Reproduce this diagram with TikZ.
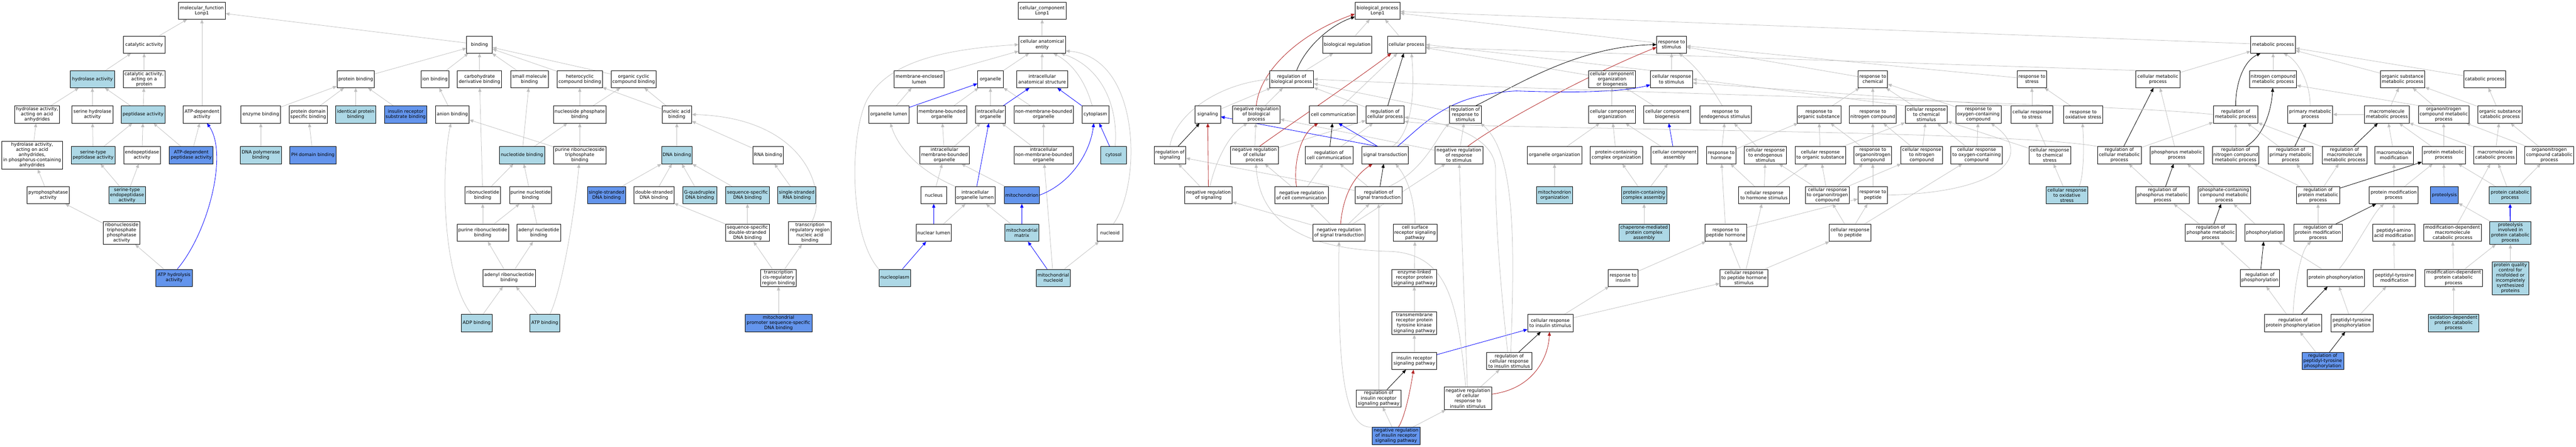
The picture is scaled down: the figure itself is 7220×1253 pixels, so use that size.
\documentclass[tikz,border=0pt]{standalone}
\usepackage{fontspec}
\setmainfont{DejaVu Sans}
\usetikzlibrary{arrows.meta}
\definecolor{lb}{RGB}{173,216,230}
\definecolor{cbl}{RGB}{100,149,237}
\definecolor{eg}{RGB}{192,192,192}
\definecolor{fb}{RGB}{178,34,34}
\pgfdeclarelayer{edgelayer}
\pgfsetlayers{edgelayer,main}
\tikzset{
 gbox/.style={draw=black, line width=1pt, fill=white, rectangle, minimum height=48pt, inner xsep=1.5pt, inner ysep=0pt, align=center, font=\fontsize{12.8}{14.6}\selectfont},
 lbx/.style={fill=lb}, cbx/.style={fill=cbl},
 isa/.style={draw=eg, line width=1.1pt, -{Triangle[length=11pt,width=9pt]}},
 partof/.style={draw=blue, line width=1.2pt, -{Triangle[length=11pt,width=9pt]}},
 partofthick/.style={draw=blue, line width=2.4pt, -{Triangle[length=11pt,width=9pt]}},
 regl/.style={draw=black, line width=1.2pt, -{Triangle[length=11pt,width=9pt]}},
 negl/.style={draw=fb, line width=1.2pt, -{Triangle[length=11pt,width=9pt]}},
}
\newcommand{\gonode}[6]{\node[gbox,#1,minimum width=#5pt] (#2) at (#3,#4) {#6};}
\begin{document}
\begin{tikzpicture}[x=1pt,y=-1pt]
\useasboundingbox (0,0) rectangle (7220,1253);
\begin{pgfonlayer}{edgelayer}
\fill[white] (0,0) rectangle (7220,1253);
\end{pgfonlayer}
% ---------------- molecular function ----------------
\gonode{}{mf}{566}{30}{131}{molecular\_function\\Lonp1}
\gonode{}{cat}{404}{125}{116}{catalytic activity}
\gonode{lbx}{hyd}{259}{222}{123}{hydrolase activity}
\gonode{}{catprot}{404}{222}{118}{catalytic activity,\\acting on a\\protein}
\gonode{}{hydanh}{104}{321}{126}{hydrolase activity,\\acting on acid\\anhydrides}
\gonode{}{serhyd}{259}{321}{115}{serine hydrolase\\activity}
\gonode{lbx}{pep}{401}{321}{123}{peptidase activity}
\gonode{}{atpdep}{566}{321}{105}{ATP-dependent\\activity}
\gonode{minimum height=78pt}{hydphos}{90}{435}{171}{hydrolase activity,\\acting on acid\\anhydrides,\\in phosphorus-containing\\anhydrides}
\gonode{lbx}{serpep}{261}{435}{123}{serine-type\\peptidase activity}
\gonode{}{endopep}{398}{435}{102}{endopeptidase\\activity}
\gonode{cbx}{atppep}{536}{435}{123}{ATP-dependent\\peptidase activity}
\gonode{}{pyro}{135}{547}{118}{pyrophosphatase\\activity}
\gonode{lbx}{serendo}{356}{547}{103}{serine-type\\endopeptidase\\activity}
\gonode{minimum height=64pt}{rntp}{341}{653}{102}{ribonucleoside\\triphosphate\\phosphatase\\activity}
\gonode{cbx}{atphyd}{488}{779}{102}{ATP hydrolysis\\activity}
\gonode{}{bind}{1344}{125}{72}{binding}
\gonode{}{protbind}{997}{222}{105}{protein binding}
\gonode{}{ionbind}{1219}{222}{78}{ion binding}
\gonode{}{carbbind}{1344}{222}{124}{carbohydrate\\derivative binding}
\gonode{}{smbind}{1484}{222}{106}{small molecule\\binding}
\gonode{}{hetbind}{1625}{222}{126}{heterocyclic\\compound binding}
\gonode{}{orgcyc}{1776}{222}{126}{organic cyclic\\compound binding}
\gonode{}{enzbind}{731}{321}{111}{enzyme binding}
\gonode{}{pdsb}{864}{321}{107}{protein domain\\specific binding}
\gonode{lbx}{idprot}{997}{321}{112}{identical protein\\binding}
\gonode{cbx}{irsb}{1137}{321}{118}{insulin receptor\\substrate binding}
\gonode{}{anion}{1268}{321}{94}{anion binding}
\gonode{}{nsp}{1625}{321}{148}{nucleoside phosphate\\binding}
\gonode{}{nab}{1897}{321}{83}{nucleic acid\\binding}
\gonode{lbx}{dnapol}{731}{435}{115}{DNA polymerase\\binding}
\gonode{cbx}{phdom}{877}{435}{129}{PH domain binding}
\gonode{lbx}{ntb}{1463}{435}{127}{nucleotide binding}
\gonode{}{prntp}{1625}{435}{147}{purine ribonucleoside\\triphosphate\\binding}
\gonode{lbx}{dnab}{1897}{435}{86}{DNA binding}
\gonode{}{rnab}{2153}{435}{86}{RNA binding}
\gonode{}{rnb}{1353}{547}{99}{ribonucleotide\\binding}
\gonode{}{pnb}{1487}{547}{118}{purine nucleotide\\binding}
\gonode{cbx}{ssdna}{1700}{547}{107}{single-stranded\\DNA binding}
\gonode{}{dsdna}{1833}{547}{112}{double-stranded\\DNA binding}
\gonode{lbx}{gq}{1961}{547}{95}{G-quadruplex\\DNA binding}
\gonode{lbx}{ssdnab}{2095}{547}{123}{sequence-specific\\DNA binding}
\gonode{lbx}{ssrna}{2233}{547}{107}{single-stranded\\RNA binding}
\gonode{}{prnb}{1353}{653}{144}{purine ribonucleotide\\binding}
\gonode{}{anb}{1510}{653}{123}{adenyl nucleotide\\binding}
\gonode{}{ssds}{2095}{653}{123}{sequence-specific\\double-stranded\\DNA binding}
\gonode{minimum height=64pt}{trr}{2270}{653}{119}{transcription\\regulatory region\\nucleic acid\\binding}
\gonode{}{arnb}{1427}{779}{147}{adenyl ribonucleotide\\binding}
\gonode{}{tcis}{2182}{779}{99}{transcription\\cis-regulatory\\region binding}
\gonode{lbx}{adp}{1336}{906}{86}{ADP binding}
\gonode{lbx}{atp}{1527}{906}{83}{ATP binding}
\gonode{cbx}{mitoprom}{2182}{906}{187}{mitochondrial\\promoter sequence-specific\\DNA binding}
% ---------------- cellular component ----------------
\gonode{}{cc}{2921}{30}{134}{cellular\_component\\Lonp1}
\gonode{}{cae}{2921}{125}{131}{cellular anatomical\\entity}
\gonode{}{mel}{2576}{222}{140}{membrane-enclosed\\lumen}
\gonode{}{org}{2776}{222}{72}{organelle}
\gonode{}{ias}{2921}{222}{142}{intracellular\\anatomical structure}
\gonode{}{orglum}{2491}{321}{112}{organelle lumen}
\gonode{}{mbo}{2640}{321}{138}{membrane-bounded\\organelle}
\gonode{}{io}{2776}{321}{83}{intracellular\\organelle}
\gonode{}{nmbo}{2925}{321}{166}{non-membrane-bounded\\organelle}
\gonode{}{cytoplasm}{3070}{321}{75}{cytoplasm}
\gonode{}{imbo}{2647}{435}{139}{intracellular\\membrane-bounded\\organelle}
\gonode{}{inmbo}{2925}{435}{166}{intracellular\\non-membrane-bounded\\organelle}
\gonode{lbx}{cytosol}{3121}{435}{73}{cytosol}
\gonode{}{nucleus}{2617}{547}{72}{nucleus}
\gonode{}{iol}{2733}{547}{112}{intracellular\\organelle lumen}
\gonode{cbx}{mito}{2864}{547}{99}{mitochondrion}
\gonode{}{nuclum}{2617}{653}{99}{nuclear lumen}
\gonode{lbx}{mitomat}{2864}{653}{96}{mitochondrial\\matrix}
\gonode{}{nucleoid}{3111}{653}{73}{nucleoid}
\gonode{lbx}{nucleoplasm}{2508}{779}{89}{nucleoplasm}
\gonode{lbx}{mitonuc}{2952}{779}{96}{mitochondrial\\nucleoid}
% ---------------- biological process ----------------
\gonode{}{bp}{3861}{30}{126}{biological\_process\\Lonp1}
\gonode{}{bioreg}{3776}{125}{138}{biological regulation}
\gonode{}{cellproc}{3942}{125}{107}{cellular process}
\gonode{}{resstim}{4685}{125}{83}{response to\\stimulus}
\gonode{}{metproc}{6371}{125}{125}{metabolic process}
\gonode{}{regbio}{3620}{222}{123}{regulation of\\biological process}
\gonode{}{ccob}{4518}{222}{131}{cellular component\\organization\\or biogenesis}
\gonode{}{crstim}{4685}{222}{118}{cellular response\\to stimulus}
\gonode{}{reschem}{5249}{222}{83}{response to\\chemical}
\gonode{}{resstress}{5695}{222}{83}{response to\\stress}
\gonode{}{cellmet}{6048}{222}{123}{cellular metabolic\\process}
\gonode{}{ncmet}{6371}{222}{131}{nitrogen compound\\metabolic process}
\gonode{}{osmet}{6734}{222}{125}{organic substance\\metabolic process}
\gonode{}{catab}{6964}{222}{118}{catabolic process}
\gonode{}{signaling}{3385}{321}{72}{signaling}
\gonode{}{nrbio}{3521}{321}{133}{negative regulation\\of biological\\process}
\gonode{}{cellcomm}{3737}{321}{134}{cell communication}
\gonode{}{regcell}{3882}{321}{107}{regulation of\\cellular process}
\gonode{}{regresp}{4107}{321}{89}{regulation of\\response to\\stimulus}
\gonode{}{ccorg}{4518}{321}{131}{cellular component\\organization}
\gonode{}{ccbio}{4673}{321}{131}{cellular component\\biogenesis}
\gonode{}{resendo}{4836}{321}{144}{response to\\endogenous stimulus}
\gonode{}{resorg}{5098}{321}{123}{response to\\organic substance}
\gonode{}{resnit}{5249}{321}{131}{response to\\nitrogen compound}
\gonode{}{crchem}{5399}{321}{118}{cellular response\\to chemical\\stimulus}
\gonode{}{resoxy}{5545}{321}{127}{response to\\oxygen-containing\\compound}
\gonode{}{crstress}{5695}{321}{117}{cellular response\\to stress}
\gonode{}{resox}{5839}{321}{110}{response to\\oxidative stress}
\gonode{}{regmet}{6266}{321}{125}{regulation of\\metabolic process}
\gonode{}{primet}{6475}{321}{126}{primary metabolic\\process}
\gonode{}{macmet}{6690}{321}{125}{macromolecule\\metabolic process}
\gonode{}{onmet}{6849}{321}{142}{organonitrogen\\compound metabolic\\process}
\gonode{}{oscat}{7007}{321}{124}{organic substance\\catabolic process}
\gonode{}{regsig}{3279}{435}{89}{regulation of\\signaling}
\gonode{}{nrcell}{3516}{435}{134}{negative regulation\\of cellular\\process}
\gonode{}{regcc}{3725}{435}{134}{regulation of\\cell communication}
\gonode{}{sigtrans}{3882}{435}{131}{signal transduction}
\gonode{}{nrresp}{4089}{435}{134}{negative regulation\\of response\\to stimulus}
\gonode{}{orgorg}{4357}{435}{152}{organelle organization}
\gonode{}{pcco}{4530}{435}{147}{protein-containing\\complex organization}
\gonode{}{cca}{4693}{435}{131}{cellular component\\assembly}
\gonode{}{reshorm}{4824}{435}{83}{response to\\hormone}
\gonode{}{crendo}{4948}{435}{118}{cellular response\\to endogenous\\stimulus}
\gonode{}{crorg}{5102}{435}{141}{cellular response\\to organic substance}
\gonode{}{reson}{5249}{435}{105}{response to\\organonitrogen\\compound}
\gonode{}{crnit}{5386}{435}{117}{cellular response\\to nitrogen\\compound}
\gonode{}{croxy}{5540}{435}{144}{cellular response\\to oxygen-containing\\compound}
\gonode{}{crcs}{5745}{435}{117}{cellular response\\to chemical\\stress}
\gonode{}{regcmet}{5940}{435}{122}{regulation of\\cellular metabolic\\process}
\gonode{}{phosmet}{6101}{435}{150}{phosphorus metabolic\\process}
\gonode{}{regncm}{6266}{435}{131}{regulation of\\nitrogen compound\\metabolic process}
\gonode{}{regpm}{6420}{435}{126}{regulation of\\primary metabolic\\process}
\gonode{}{regmm}{6571}{435}{126}{regulation of\\macromolecule\\metabolic process}
\gonode{}{macmod}{6710}{435}{107}{macromolecule\\modification}
\gonode{}{protmet}{6849}{435}{121}{protein metabolic\\process}
\gonode{}{maccat}{6993}{435}{119}{macromolecule\\catabolic process}
\gonode{}{oncat}{7145}{435}{137}{organonitrogen\\compound catabolic\\process}
\gonode{}{nrsig}{3387}{547}{133}{negative regulation\\of signaling}
\gonode{}{nrcc}{3648}{547}{150}{negative regulation\\of cell communication}
\gonode{}{regst}{3864}{547}{131}{regulation of\\signal transduction}
\gonode{lbx}{mitoorg}{4357}{547}{100}{mitochondrion\\organization}
\gonode{lbx}{pcca}{4608}{547}{128}{protein-containing\\complex assembly}
\gonode{}{crhorm}{4944}{547}{142}{cellular response\\to hormone stimulus}
\gonode{}{cron}{5122}{547}{123}{cellular response\\to organonitrogen\\compound}
\gonode{}{respep}{5249}{547}{83}{response to\\peptide}
\gonode{lbx}{crox}{5793}{547}{117}{cellular response\\to oxidative\\stress}
\gonode{}{regphosm}{6061}{547}{150}{regulation of\\phosphorus metabolic\\process}
\gonode{}{pccm}{6234}{547}{147}{phosphate-containing\\compound metabolic\\process}
\gonode{}{regprotm}{6497}{547}{121}{regulation of\\protein metabolic\\process}
\gonode{}{protmod}{6709}{547}{137}{protein modification\\process}
\gonode{cbx}{proteolysis}{6851}{547}{78}{proteolysis}
\gonode{lbx}{protcat}{7035}{547}{116}{protein catabolic\\process}
\gonode{}{nrst}{3753}{653}{146}{negative regulation\\of signal transduction}
\gonode{}{csr}{3966}{653}{123}{cell surface\\receptor signaling\\pathway}
\gonode{lbx}{chap}{4608}{653}{142}{chaperone-mediated\\protein complex\\assembly}
\gonode{}{respeph}{4837}{653}{118}{response to\\peptide hormone}
\gonode{}{crpep}{5185}{653}{118}{cellular response\\to peptide}
\gonode{}{regphatm}{6196}{653}{143}{regulation of\\phosphate metabolic\\process}
\gonode{}{phosph}{6347}{653}{109}{phosphorylation}
\gonode{}{regpmod}{6497}{653}{137}{regulation of\\protein modification\\process}
\gonode{}{pepaa}{6709}{653}{119}{peptidyl-amino\\acid modification}
\gonode{}{mdmc}{6874}{653}{161}{modification-dependent\\macromolecule\\catabolic process}
\gonode{lbx,minimum height=64pt}{pipc}{7036}{653}{116}{proteolysis\\involved in\\protein catabolic\\process}
\gonode{}{elr}{3964}{779}{126}{enzyme-linked\\receptor protein\\signaling pathway}
\gonode{}{resins}{4549}{779}{83}{response to\\insulin}
\gonode{}{crpeph}{4888}{779}{135}{cellular response\\to peptide hormone\\stimulus}
\gonode{}{regphos}{6334}{779}{110}{regulation of\\phosphorylation}
\gonode{}{protphos}{6547}{779}{161}{protein phosphorylation}
\gonode{}{pepty}{6711}{779}{118}{peptidyl-tyrosine\\modification}
\gonode{}{mdpc}{6877}{779}{161}{modification-dependent\\protein catabolic\\process}
\gonode{lbx,minimum height=93pt}{pqc}{7036}{780}{102}{protein quality\\control for\\misfolded or\\incompletely\\synthesized\\proteins}
\gonode{minimum height=64pt}{rtk}{3964}{906}{126}{transmembrane\\receptor protein\\tyrosine kinase\\signaling pathway}
\gonode{}{crins}{4345}{906}{127}{cellular response\\to insulin stimulus}
\gonode{}{regpp}{6427}{906}{161}{regulation of\\protein phosphorylation}
\gonode{}{ptp}{6592}{906}{118}{peptidyl-tyrosine\\phosphorylation}
\gonode{lbx}{odpc}{6877}{906}{141}{oxidation-dependent\\protein catabolic\\process}
\gonode{}{irsp}{3964}{1012}{126}{insulin receptor\\signaling pathway}
\gonode{}{regcri}{4230}{1012}{127}{regulation of\\cellular response\\to insulin stimulus}
\gonode{cbx}{regptp}{6510}{1012}{117}{regulation of\\peptidyl-tyrosine\\phosphorylation}
\gonode{}{regirsp}{3864}{1117}{125}{regulation of\\insulin receptor\\signaling pathway}
\gonode{minimum height=64pt}{nrcri}{4114}{1117}{133}{negative regulation\\of cellular\\response to\\insulin stimulus}
\gonode{cbx}{nrirsp}{3913}{1222}{133}{negative regulation\\of insulin receptor\\signaling pathway}
% ---------------- edges ----------------
\begin{pgfonlayer}{edgelayer}
\foreach \a/\b in {cat/mf, atpdep/mf, bind/mf, hyd/cat, catprot/cat, hydanh/hyd, serhyd/hyd, pep/hyd, pep/catprot, hydphos/hydanh, serpep/serhyd, serpep/pep, endopep/pep, atppep/pep, atppep/atpdep, pyro/hydphos, serendo/serpep, serendo/endopep, rntp/pyro, atphyd/rntp,
 protbind/bind, ionbind/bind, carbbind/bind, smbind/bind, hetbind/bind, orgcyc/bind, enzbind/protbind, pdsb/protbind, idprot/protbind, irsb/protbind, dnapol/enzbind, phdom/pdsb, anion/ionbind, nsp/hetbind, nsp/orgcyc, nab/hetbind, nab/orgcyc, ntb/smbind, ntb/nsp, prntp/nsp, prntp/anion, rnb/ntb, rnb/carbbind, pnb/ntb, prnb/rnb, prnb/pnb, anb/pnb, arnb/prnb, arnb/anb, adp/arnb, atp/arnb, dnab/nab, rnab/nab, ssdna/dnab, dsdna/dnab, gq/dnab, ssdnab/dnab, ssrna/rnab, ssds/ssdnab, ssds/dsdna, tcis/ssds, tcis/trr, mitoprom/tcis,
 cae/cc, mel/cae, org/cae, ias/cae, orglum/mel, mbo/org, io/org, nmbo/org, imbo/mbo, imbo/io, inmbo/nmbo, inmbo/io, nucleus/imbo, mito/imbo, nuclum/iol, mitomat/iol, mitonuc/inmbo, mitonuc/nucleoid,
 bioreg/bp, cellproc/bp, regbio/bioreg, nrbio/regbio, metproc/bp, resstim/bp, signaling/regbio, nrsig/regsig, nrcell/nrbio, nrcell/regcell, cellcomm/cellproc, regcell/regbio, regcc/regcell, regresp/regbio, nrresp/regresp, nrresp/nrbio, nrcc/regcc, nrcc/nrcell, regst/regcc, regst/regsig, nrst/regst, nrst/nrcc, nrst/nrresp, nrst/nrsig, elr/csr, rtk/elr, irsp/rtk, regirsp/regst, nrcri/regcri, nrcri/nrresp, nrirsp/regirsp, nrirsp/nrcri,
 ccob/cellproc, crstim/resstim, ccorg/ccob, ccbio/ccob, orgorg/ccorg, pcco/ccorg, cca/ccorg, mitoorg/orgorg, pcca/pcco, pcca/cca, chap/pcca, resins/respeph, crins/resins, crins/crpeph, reschem/resstim, resstress/resstim, resorg/reschem, resnit/reschem, crchem/reschem, reshorm/resendo, reshorm/resorg, crendo/resendo, crorg/resorg, crorg/crchem, reson/resnit, reson/resorg, crnit/resnit, crnit/crchem, crhorm/reshorm, crhorm/crendo, crhorm/crorg, cron/crorg, cron/reson, cron/crnit, cron/crendo, respep/reson, respeph/reshorm, respeph/respep, crpep/cron, crpep/respep, crpep/croxy, crpeph/respeph, crpeph/crhorm, crpeph/crpep, resoxy/reschem, croxy/resoxy, croxy/crchem, crstress/resstress, resox/resstress, crcs/crstress, crcs/crchem, crox/crcs,
 cellmet/metproc, ncmet/metproc, regcmet/regmet, phosmet/cellmet, regncm/regmet, regpm/regmet, regmm/regmet, regphosm/regcmet, pccm/phosmet, regprotm/regncm, regprotm/regpm, regprotm/regmm, regphatm/regphosm, phosph/pccm, regpmod/regprotm, regphos/regphatm, protphos/phosph, regpp/regphos, ptp/protphos, ptp/pepty, regptp/regpp, osmet/metproc, catab/metproc, macmet/osmet, macmet/primet, onmet/osmet, oscat/catab, oscat/osmet, macmod/macmet, protmet/macmet, protmet/onmet, maccat/oscat, maccat/macmet, oncat/oscat, oncat/onmet, protmod/macmod, protmod/protmet, proteolysis/protmet, protcat/protmet, protcat/maccat, protcat/oncat, pepaa/protmod, mdmc/maccat, pipc/proteolysis, pepty/pepaa, mdpc/mdmc, mdpc/pipc, pqc/pipc, odpc/mdpc}
 \draw[isa] (\a) -- (\b);
\draw[isa] (crstim.north west) -- (cellproc.east);
\draw[isa] (cellmet.north west) -- (cellproc.-8);
\draw[isa] (crchem.north west) -- (crstim.east);
\draw[isa] (crstress.north west) -- (crstim.-10);
\draw[isa] (onmet.160) -- (ncmet.-15);
% blue part_of
\foreach \a/\b in {orglum/org, io/ias, iol/io, nuclum/nucleus, nucleoplasm/nuclum, mitonuc/mitomat, cytosol/cytoplasm, cca/ccbio, irsp/crins}
 \draw[partof] (\a) -- (\b);
\draw[partof] (cytoplasm.north west) -- (ias.-30);
\draw[partofthick] (mitomat) -- (mito);
\draw[partofthick] (pipc) -- (protcat);
\draw[partof] (sigtrans.130) -- (signaling.-10);
\draw[partof] (sigtrans.130) -- (cellcomm.-60);
% black regulates
\foreach \a/\b in {regsig/signaling, regcell/cellproc, regcc/cellcomm, regst/sigtrans, regirsp/irsp, regcri/crins, regcmet/cellmet, regpm/primet, regmm/macmet, regphosm/phosmet, regprotm/protmet, regphatm/pccm, regpmod/protmod, regphos/phosph, regpp/protphos, regptp/ptp}
 \draw[regl] (\a) -- (\b);
% red negatively regulates
\draw[negl] (nrsig) -- (signaling);
% curves
\draw[partof] (atphyd.70) .. controls (585,650) and (640,430) .. (atpdep.-60);
\draw[isa] (adp.120) .. controls (1240,780) and (1235,480) .. (anion.-100);
\draw[isa] (atp.60) .. controls (1580,800) and (1615,560) .. (prntp.-95);
\draw[isa] (trr.80) .. controls (2320,540) and (2260,330) .. (nab.east);
\draw[isa] (nucleoplasm.north west) .. controls (2380,660) and (2380,380) .. (2430,280) .. controls (2480,190) and (2600,140) .. (cae.west);
\draw[isa] (iol.north west) .. controls (2580,480) and (2520,420) .. (orglum.-80);
\draw[partof] (mito.east) .. controls (3000,515) and (3055,430) .. (cytoplasm.-100);
\draw[isa] (cytoplasm.110) .. controls (3040,220) and (3000,175) .. (cae.-38);
\draw[isa] (cytosol.80) .. controls (3135,300) and (3090,190) .. (cae.-25);
\draw[isa] (nucleoid.70) .. controls (3200,520) and (3200,160) .. (cae.-15);
\draw[regl] (regbio.60) .. controls (3660,130) and (3730,70) .. (bp.-165);
\draw[negl] (nrbio.north) .. controls (3530,200) and (3640,95) .. (bp.-172);
\draw[isa] (regsig.north) .. controls (3290,330) and (3400,240) .. (regbio.west);
\draw[isa] (nrsig.80) .. controls (3405,460) and (3440,380) .. (nrbio.-135);
\draw[negl] (nrcell.60) .. controls (3570,380) and (3750,260) .. (cellproc.-150);
\draw[negl] (nrcc.120) .. controls (3625,470) and (3640,380) .. (cellcomm.-150);
\draw[negl] (nrst.80) .. controls (3765,540) and (3800,490) .. (sigtrans.-145);
\draw[isa] (sigtrans.50) .. controls (3960,370) and (3965,250) .. (cellproc.-60);
\draw[isa] (csr.north) .. controls (3965,560) and (3945,500) .. (sigtrans.-40);
\draw[isa] (regst.40) .. controls (3990,480) and (4030,380) .. (regresp.south west);
\draw[partof] (sigtrans.35) .. controls (4000,340) and (4060,265) .. (4250,255) .. controls (4450,262) and (4560,255) .. (crstim.-165);
\draw[regl] (regresp.40) .. controls (4250,240) and (4420,130) .. (resstim.west);
\draw[negl] (nrresp.45) .. controls (4200,345) and (4450,210) .. (resstim.-170);
\draw[isa] (resendo.110) .. controls (4800,250) and (4760,190) .. (resstim.-50);
\draw[isa] (regcri.100) .. controls (4205,800) and (4190,600) .. (4192,480) .. controls (4194,400) and (4100,350) .. (regcell.-8);
\draw[isa] (regcri.80) .. controls (4245,700) and (4250,430) .. (regresp.-30);
\draw[isa] (nrcri.100) .. controls (4085,850) and (4060,715) .. (3900,705) .. controls (3650,700) and (3530,620) .. (nrcell.-80);
\draw[isa] (nrirsp.north west) .. controls (3760,1205) and (3750,1000) .. (nrst.-90);
\draw[negl] (nrcri.10) .. controls (4300,1090) and (4340,1000) .. (crins.-95);
\draw[negl] (nrirsp.75) .. controls (3940,1165) and (3955,1080) .. (irsp.-95);
\draw[isa] (respep.east) .. controls (5620,540) and (5700,430) .. (resoxy.-35);
\draw[isa] (crox.60) .. controls (5830,560) and (5845,480) .. (resox.-95);
\draw[isa] (regcmet.north west) .. controls (5600,362) and (4150,365) .. (regcell.-20);
\draw[isa] (regmet.west) .. controls (5900,288) and (4500,262) .. (regbio.east);
\draw[regl] (regmet.north) .. controls (6266,230) and (6290,170) .. (metproc.-145);
\draw[regl] (regncm.40) .. controls (6340,385) and (6365,320) .. (ncmet.-92);
\draw[isa] (primet.north) .. controls (6475,230) and (6440,170) .. (metproc.-40);
\draw[isa] (protphos.70) .. controls (6600,700) and (6650,600) .. (protmod.-138);
\draw[isa] (regpp.north) .. controls (6430,800) and (6450,700) .. (regpmod.-128);
\end{pgfonlayer}
\end{tikzpicture}
\end{document}
